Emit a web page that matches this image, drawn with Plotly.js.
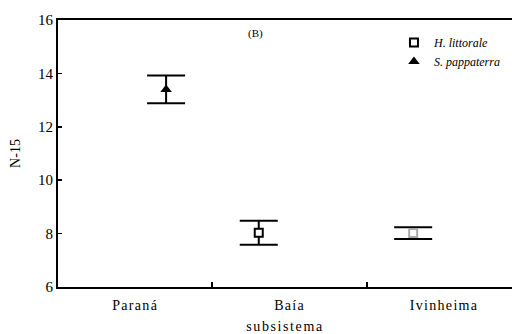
<!DOCTYPE html>
<html><head><meta charset="utf-8">
<script src="https://cdn.plot.ly/plotly-3.0.1.min.js"></script>
<style>
body{margin:0;background:#fff}
#c .xtick text{letter-spacing:1.3px}
#c .g-xtitle text{letter-spacing:1.6px}
</style></head>
<body><div id="c" style="width:512px;height:334px"></div>
<script>
const categories = ["Paraná", "Baía", "Ivinheima"];
// H. littorale: present in Baía and Ivinheima
const hlCats = ["Baía", "Ivinheima"];
const hlMean = [8.03, 8.02];
const hlErr  = [0.45, 0.22];
// S. pappaterra: present in Paraná
const spCats = ["Paraná"];
const spMean = [13.40];
const spErr  = [0.52];
const yTicks = [6, 8, 10, 12, 14, 16];

const idx = c => categories.indexOf(c);
const serif = "Liberation Serif";

const traces = [
  {
    name: "H. littorale", type: "scatter", mode: "markers",
    x: hlCats.map(c => idx(c) - 0.2), y: hlMean,
    error_y: {type: "data", array: hlErr, visible: true, color: "#000", thickness: 2, width: 19},
    marker: {symbol: "square", size: 8, color: "#fff", line: {color: ["#000", "#aaa"], width: 2}}
  },
  {
    name: "S. pappaterra", type: "scatter", mode: "markers",
    x: spCats.map(c => idx(c) + 0.2), y: spMean,
    error_y: {type: "data", array: spErr, visible: true, color: "#000", thickness: 2, width: 19},
    marker: {symbol: "triangle-up", size: 10, color: "#000"}
  }
];

const layout = {
  width: 512, height: 334,
  margin: {l: 58, r: 0, t: 20, b: 47},
  paper_bgcolor: "#fff", plot_bgcolor: "#fff",
  font: {family: serif, color: "#000", size: 14},
  showlegend: true,
  legend: {x: 0.74, y: 0.97, xanchor: "left", yanchor: "top",
           font: {family: serif, size: 12, style: "italic"}, bgcolor: "rgba(0,0,0,0)",
           tracegroupgap: 0},
  xaxis: {
    range: [-0.5, 2.44], tickmode: "array", tickvals: categories.map((c, i) => i), ticktext: categories,
    ticks: "inside", ticklen: 0, showgrid: false, zeroline: false,
    minor: {tickmode: "array", tickvals: [0.5, 1.5], ticks: "inside", ticklen: 5, tickwidth: 2, tickcolor: "#000", showgrid: false},
    showline: true, linecolor: "#000", linewidth: 2, mirror: true,
    tickfont: {family: serif, size: 14}, ticklabelstandoff: 4,
    title: {text: "subsistema", font: {family: serif, size: 14}, standoff: 10}
  },
  yaxis: {
    range: [6, 16], tickvals: yTicks, ticks: "inside", ticklen: 4, tickwidth: 1.5, tickcolor: "#000",
    showgrid: false, zeroline: false, showline: true, linecolor: "#000", linewidth: 2,
    tickfont: {family: serif, size: 15},
    title: {text: "N-15", font: {family: serif, size: 14}, standoff: 14}
  },
  annotations: [{text: "(B)", xref: "paper", yref: "paper", x: 0.435, y: 0.95, yanchor: "middle",
                 showarrow: false, font: {family: serif, size: 11}}]
};

Plotly.newPlot("c", traces, layout, {staticPlot: true});
</script></body></html>
